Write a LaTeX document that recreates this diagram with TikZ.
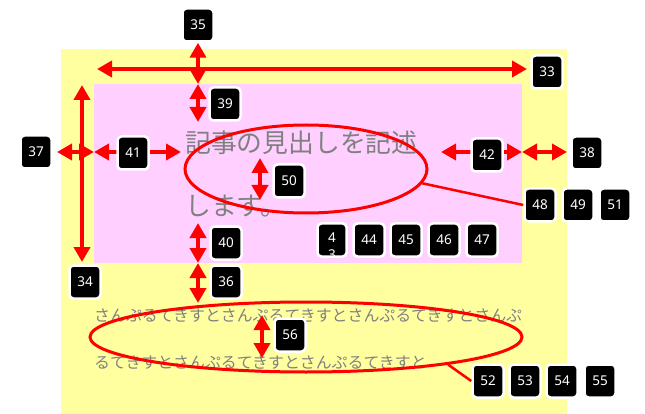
\documentclass[tikz,border=0pt]{standalone}
\usepackage{fontspec}
\usepackage{xcolor}
\usepackage{tikz}
\usetikzlibrary{shapes, arrows, positioning}
\usetikzlibrary{arrows.meta, calc}
\usetikzlibrary{shapes.geometric}

\newfontfamily\jpfont{Noto Sans CJK JP}
\newfontfamily\numfont{Noto Sans}
\definecolor{amarillo}{RGB}{255,255,160}
\definecolor{rosa}{RGB}{255,208,255}
\definecolor{gris}{RGB}{128,128,128}

\begin{document}
\begin{tikzpicture}[x=1pt, y=-1pt, >={Triangle[length=15pt, width=16pt]},
    etiqueta/.style={fill=black, draw=white, line width=2.5pt, rounded corners=4pt,
        text=white, font=\numfont\fontsize{13.5pt}{15pt}\selectfont,
        minimum width=31pt, minimum height=33pt, inner sep=0pt},
    cota/.style={<->, red, line width=4pt},
    ovalo/.style={ellipse, draw=red, line width=3pt, inner sep=0pt},
    guia/.style={red, line width=2.5pt}]
    \useasboundingbox (0,0) rectangle (645,414);

    % Cajas de fondo
    \node[fill=amarillo, anchor=north west, inner sep=0pt,
        minimum width=506pt, minimum height=365pt] (fondo) at (61,49) {};
    \node[fill=rosa, anchor=north west, inner sep=0pt,
        minimum width=428pt, minimum height=179pt] (caja) at (94,84) {};

    % Textos
    \node[anchor=base west, inner sep=0pt, text=gris,
        font=\jpfont\fontsize{25.8pt}{30pt}\selectfont] (tit1) at (185,153) {記事の見出しを記述};
    \node[anchor=base west, inner sep=0pt, text=gris,
        font=\jpfont\fontsize{25.8pt}{30pt}\selectfont] (tit2) at (185,215) {します。};
    \node[anchor=base west, inner sep=0pt, text=gris,
        font=\jpfont\fontsize{15.9pt}{18pt}\selectfont] (txt1) at (94,321) {さんぷるてきすとさんぷるてきすとさんぷるてきすとさんぷ};
    \node[anchor=base west, inner sep=0pt, text=gris,
        font=\jpfont\fontsize{15.9pt}{18pt}\selectfont] (txt2) at (94,368) {るてきすとさんぷるてきすとさんぷるてきすと};

    % Elipses
    \node[ovalo, minimum width=242pt, minimum height=88pt] (e50) at (306,169) {};
    \node[ovalo, minimum width=432pt, minimum height=70pt] (e56) at (306,337) {};

    % Puntos de las cotas
    \coordinate (p33a) at (97,69);   \coordinate (p33b) at (527,69);
    \coordinate (p35) at (198,84);   \coordinate (p39) at (198,122);
    \coordinate (p34a) at (82,85);   \coordinate (p34b) at (82,262);
    \coordinate (p37) at (57,152);   \coordinate (p41a) at (94,152);
    \coordinate (p41b) at (181,152); \coordinate (p42a) at (441,152);
    \coordinate (p42b) at (522,152); \coordinate (p38) at (567,152);
    \coordinate (p40a) at (198,223); \coordinate (p40b) at (198,263);
    \coordinate (p36) at (198,303);
    \coordinate (p50a) at (260,158); \coordinate (p50b) at (260,200);
    \coordinate (p56a) at (262,315); \coordinate (p56b) at (262,358);

    % Etiquetas
    \node[etiqueta] (l33) at (547,72) {33};
    \node[etiqueta] (l34) at (85,282) {34};
    \node[etiqueta] (l35) at (198,25) {35};
    \node[etiqueta] (l36) at (226,282) {36};
    \node[etiqueta] (l37) at (36,152) {37};
    \node[etiqueta] (l38) at (587,153) {38};
    \node[etiqueta] (l39) at (225,104) {39};
    \node[etiqueta] (l40) at (226,243) {40};
    \node[etiqueta] (l48) at (540,205) {48};
    \node[etiqueta] (l49) at (578,205) {49};
    \node[etiqueta] (l51) at (615,205) {51};
    \node[etiqueta] (l52) at (488,381) {52};
    \node[etiqueta] (l53) at (525,381) {53};
    \node[etiqueta] (l54) at (562,381) {54};
    \node[etiqueta] (l55) at (600,381) {55};

    % Lineas guia y cotas
    \draw[guia] (e50.-7) -- (l48.west);
    \draw[guia] (e56.-11) -- (l52.west);
    \draw[cota] (p33a) -- (p33b);
    \draw[cota] (l35.south) -- (p35);
    \draw[cota] (p35) -- (p39);
    \draw[cota] (p34a) -- (p34b);
    \draw[cota] (p37) -- (p41a);
    \draw[cota] (p41a) -- (p41b);
    \draw[cota] (p42a) -- (p42b);
    \draw[cota] (p42b) -- (p38);
    \draw[cota] (p40a) -- (p40b);
    \draw[cota] (p40b) -- (p36);
    \draw[cota] (p50a) -- (p50b);
    \draw[cota] (p56a) -- (p56b);

    % Etiquetas sobre las cotas
    \node[etiqueta] (l41) at (133,153) {41};
    \node[etiqueta] (l42) at (487,155) {42};
    \node[etiqueta] (l50) at (289,181) {50};
    \node[etiqueta] (l56) at (290,335) {56};
    \node[etiqueta, minimum width=29pt] (l43) at (332,240) {};
    \begin{scope}
        \clip[rounded corners=3pt] ($(l43.south west)+(2,-2)$) rectangle ($(l43.north east)+(-2,2)$);
        \node[text=white, align=center, font=\numfont\fontsize{13.5pt}{17pt}\selectfont] (n43) at (332,246) {4\\3};
    \end{scope}
    \node[etiqueta] (l44) at (369,240) {44};
    \node[etiqueta] (l45) at (406,240) {45};
    \node[etiqueta] (l46) at (444,240) {46};
    \node[etiqueta] (l47) at (482,240) {47};
\end{tikzpicture}
\end{document}
